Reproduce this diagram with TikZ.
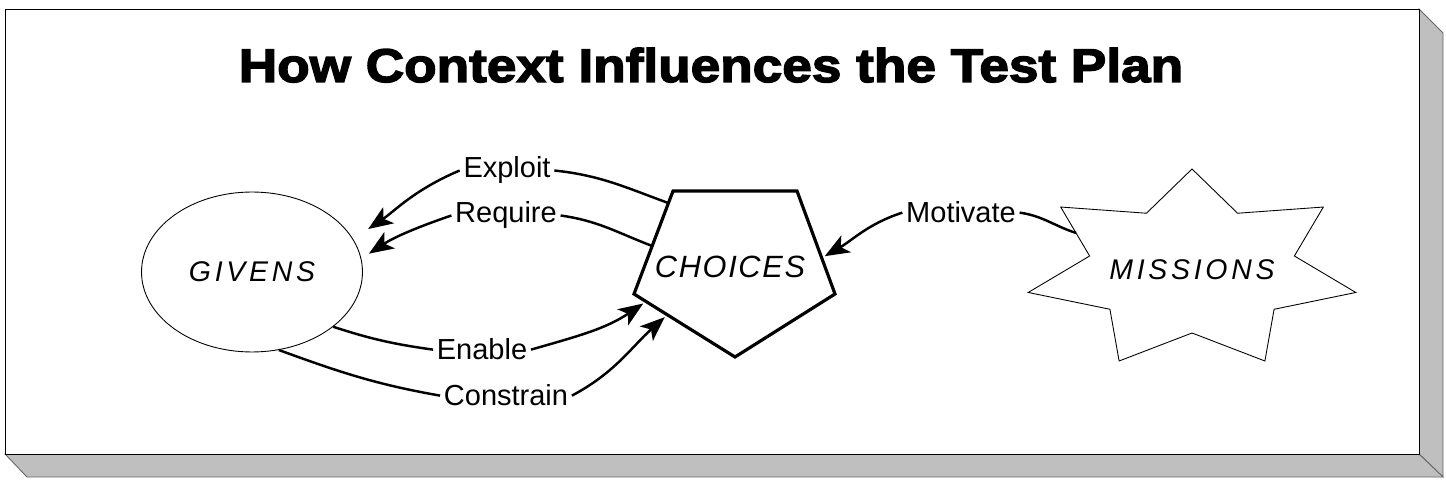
\documentclass[tikz,border=0pt]{standalone}
\usepackage{fontspec}
\setmainfont{Liberation Sans}
\newfontfamily\titlefont{Liberation Sans Bold}[FakeBold=3, FakeStretch=1.125]
\usetikzlibrary{arrows.meta,calc,shapes.geometric}

\begin{document}
\begin{tikzpicture}[x=0.02cm, y=0.02cm,
    frame/.style={fill=white, draw=black, line width=0.5pt},
    side/.style={fill=black!25, draw=black!60, line width=0.5pt},
    label/.style={font=\fontsize{16.5}{18}\selectfont, inner sep=2pt, anchor=base},
    thing/.style={font=\fontsize{16.2}{18}\selectfont\itshape\addfontfeatures{LetterSpace=13}},
    link/.style={line width=1.4pt},
    flow/.style={link, -{Stealth[length=14pt, width=11pt, inset=3.5pt]}}]

    % box with its 3d edge
    \useasboundingbox (0,0) rectangle (1446,480);
    \draw[side] (1419,471) -- (1443,447) -- (1443,3) -- (1419,26) -- cycle;
    \draw[side] (5,26) -- (27,3) -- (1443,3) -- (1419,26) -- cycle;
    \draw[frame] (5,26) rectangle (1419,471);

    \node[font=\titlefont\fontsize{26.9}{30}\selectfont, anchor=base] (title) at (711,398) {How Context Influences the Test Plan};

    % the three shapes
    \node[thing, draw, ellipse, line width=0.5pt, minimum width=4.42cm, minimum height=3.2cm] (givens) at (252,208) {GIVENS};

    \node[thing, font=\fontsize{17.5}{19}\selectfont\itshape\addfontfeatures{LetterSpace=5.5}] (choices) at (730,213) {CHOICES};
    \draw[line width=1.8pt] (673,289) coordinate (c1) -- (797,289) coordinate (c2) -- (835,186) coordinate (c3)
        -- (735,123) coordinate (c4) -- (634,186) coordinate (c5) -- cycle;

    \node[thing] (missions) at (1192,210) {MISSIONS};
    \draw[line width=0.5pt] ([shift={(90:168 and 101)}]missions.center) coordinate (s0)
        \foreach \k [evaluate=\k as \rx using {168-63*mod(\k,2)}, evaluate=\k as \ry using {101-38*mod(\k,2)}] in {1,...,13} {
            -- ([shift={(90+\k*25.714:{\rx} and {\ry})}]missions.center) coordinate (s\k)
        } -- cycle;

    % labels
    \node[label] (exploit) at (507,302) {Exploit};
    \node[label] (require) at (506,257) {Require};
    \node[label] (enable) at (482,120) {Enable};
    \node[label] (constrain) at (506,74) {Constrain};
    \node[label] (motivate) at (961,257) {Motivate};

    % connectors
    \draw[link] ($(c1)!0.117!(c5)$) to[out=160, in=-6] (exploit.east);
    \draw[flow, shorten >=0.36cm] (exploit.west) to[out=203, in=34] (givens.18);
    \draw[link] ($(c1)!0.534!(c5)$) to[out=159, in=-8] (require.east);
    \draw[flow, shorten >=0.18cm] (require.west) to[out=199, in=33] (givens.7);
    \draw[link] (givens.-34) to[out=-18, in=172] (enable.west);
    \draw[flow, shorten >=2pt] (enable.east) to[out=16, in=214] ($(c5)!0.12!(c4)$);
    \draw[link] (givens.-71) to[out=-20, in=170] (constrain.west);
    \draw[flow, shorten >=2pt] (constrain.east) to[out=28, in=222] ($(c5)!0.33!(c4)$);
    \draw[link] ($(s2)!0.53!(s3)$) to[out=162, in=-8] (motivate.east);
    \draw[flow, shorten >=2pt] (motivate.west) to[out=198, in=30] ($(c2)!0.65!(c3)$);
\end{tikzpicture}
\end{document}
